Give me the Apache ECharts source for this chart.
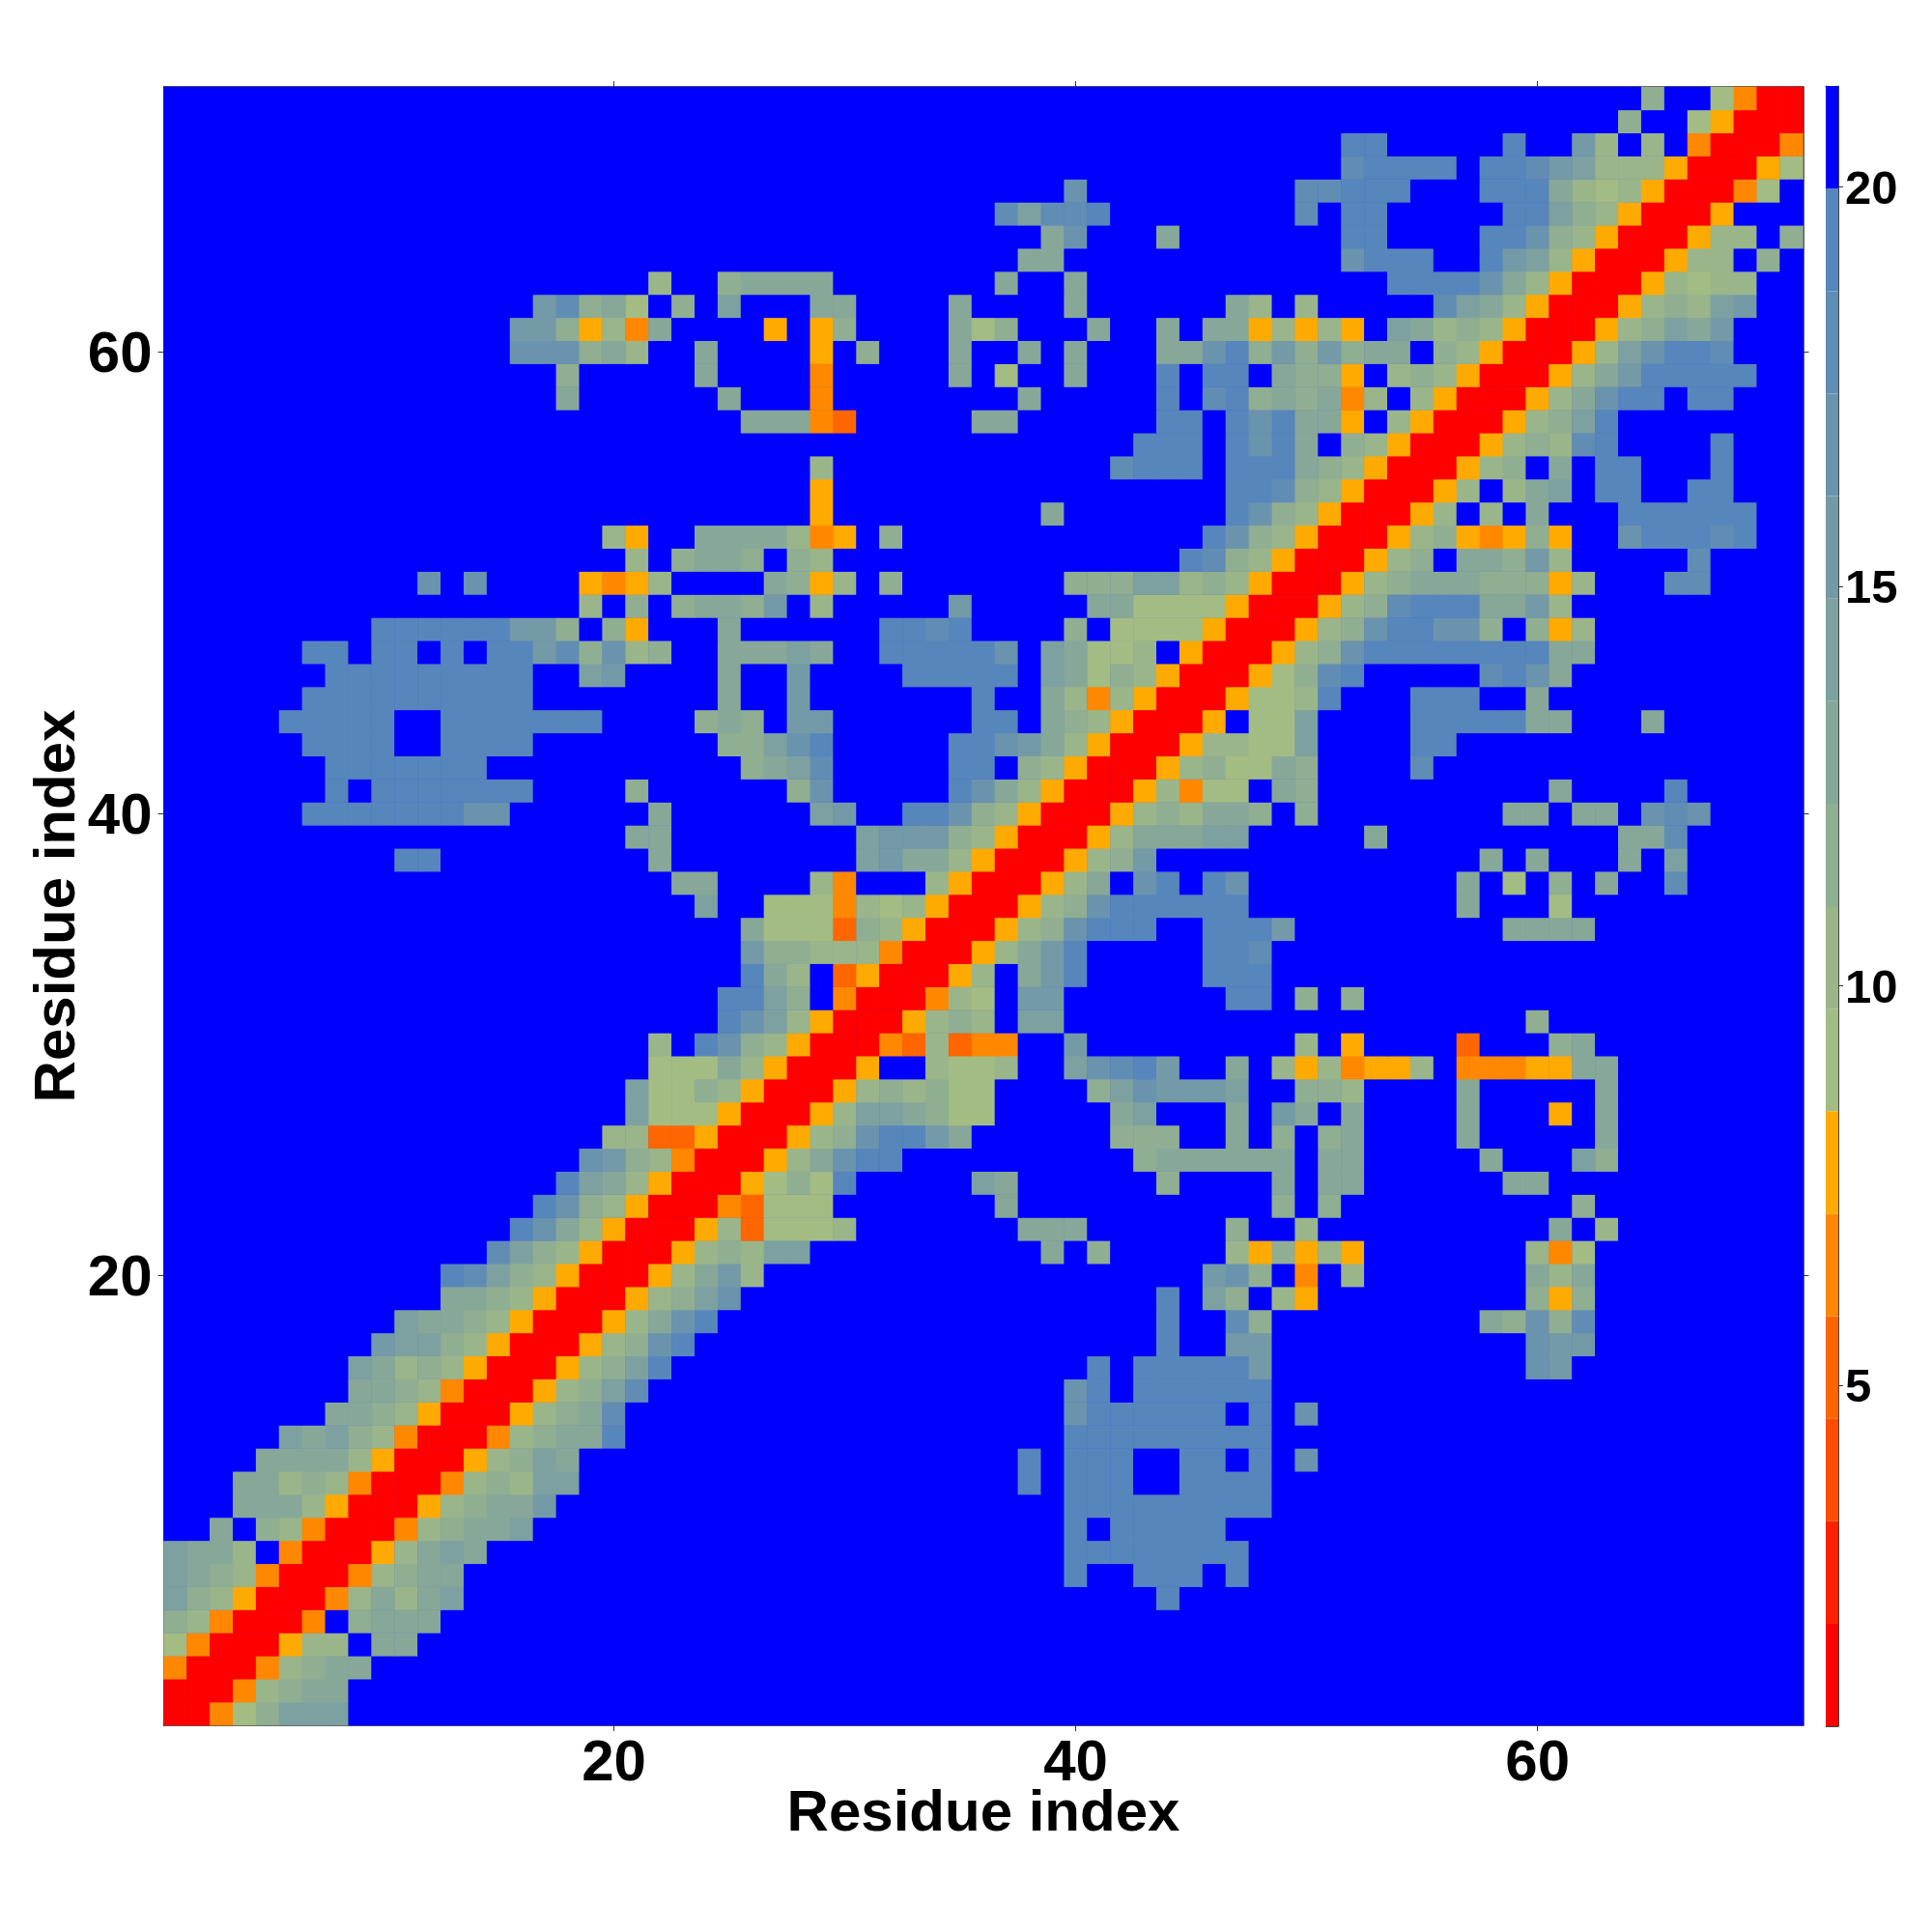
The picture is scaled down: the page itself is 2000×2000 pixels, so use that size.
<!DOCTYPE html>
<html><head><meta charset="utf-8">
<style>html,body{margin:0;padding:0;background:#fff}#c{width:2000px;height:2000px}</style>
<script src="https://cdn.jsdelivr.net/npm/echarts@6/dist/echarts.min.js"></script>
</head><body><div id="c"></div>
<script>
// Residue-residue distance map. Each row lists [first column, level codes, ...] for columns up to the diagonal;
// "." and anything unlisted is the top (blue) level; the map is symmetric.
const r01=[1,"00"];
const r02=[1,"000"];
const r03=[1,"4000"];
const r04=[1,"64000"];
const r05=[1,"874000"];
const r06=[1,"a875000"];
const r07=[1,"a9874000"];
const r08=[1,"a997.4000"];
const r09=[3,"9.874000"];
const r10=[4,"99975000"];
const r11=[4,"997874000"];
const r12=[5,"999975000"];
const r13=[6,"a9a874000"];
const r14=[8,"99875000"];
const r15=[9,"99874000"];
const r16=[9,"a97875000"];
const r17=[10,"baa875000"];
const r18=[11,"a99875000"];
const r19=[13,"99875000"];
const r20=[13,"eda875000"];
const r21=[15,"da875000"];
const r22=[16,"ec975000"];
const r23=[17,"ec875000"];
const r24=[18,"ea975000"];
const r25=[19,"cb874000"];
const r26=[20,"77335000"];
const r27=[21,"a6665000"];
const r28=[21,"a66875000"];
const r29=[22,"666975000"];
const r30=[22,"7.ec875000"];
const r31=[25,"eca75000"];
const r32=[25,"eea8.4000"];
const r33=[26,"e97.35000"];
const r34=[26,"b887774000"];
const r35=[26,"96663875000"];
const r36=[24,"a",27,"66647675000"];
const r37=[23,"99",29,"74",34,"75000"];
const r38=[11,"ee",22,"9",31,"ab9975000"];
const r39=[21,"99",31,"abbb875000"];
const r40=[7,"eeeeeeecc",22,"9",29,"ab",33,"eec875000"];
const r41=[8,"e.eeeeeee",21,"8",28,"8c",35,"ec975000"];
const r42=[8,"eeeeeee",26,"89ad",35,"ee.875000"];
const r43=[7,"eeee..eeee",25,"88ace",35,"eecb975000"];
const r44=[6,"eeeee..eeeeeee",24,"898",28,"bb",36,"ee.9875000"];
const r45=[7,"eeeeeeeeee",25,"9",28,"b",36,"e",39,"97475000"];
const r46=[8,"eeeeeeeee",19,"ab",25,"9",28,"b",33,"eeeee",39,"a96875000"];
const r47=[7,"ee.ee.e.eebd8c78",25,"999a9",32,"eeeeec",39,"a9667.5000"];
const r48=[10,"eeeeeebb8.85",25,"9",32,"eede",40,"8.66665000"];
const r49=[19,"7.8.8998b.7",35,"b",41,"9966665000"];
const r50=[12,"c.c",19,"5457",27,"9857.8",40,"888aa7875000"];
const r51=[21,"7.8998.87",45,"ed875000"];
const r52=[20,"75",24,"9999745",32,"8",46,"ec875000"];
const r53=[29,"5",39,"9",47,"ec875000"];
const r54=[29,"5",47,"eed875000"];
const r55=[29,"7",42,"deee.eee9875000"];
const r56=[43,"eee.ece9.875000"];
const r57=[26,"99943",36,"99",44,"ee.ece995.75000"];
const r58=[18,"9",25,"9",29,"4",38,"9",44,"e.de898947.75000"];
const r59=[18,"8",24,"9",29,"4",35,"9.6",40,"9",44,"e.ee.9885.7875000"];
const r60=[16,"ccc897",24,"9",29,"5.8",35,"9",38,"9.9",44,"99ce8b8b899.875000"];
const r61=[16,"bb85749",27,"5.58",35,"968",41,"9",44,"9.9957575.a97875000"];
const r62=[17,"bd896.8",25,"a",29,"99",35,"9",40,"9",47,"97.7",56,"da975000"];
const r63=[22,"7",25,"89999",37,"9",40,"9",54,"eeeec975000"];
const r64=[38,"99",52,"ceee..eba75000"];
const r65=[39,"9c",44,"9",52,"ee",58,"eec875000"];
const r66=[37,"dadde",50,"d.ee",59,"eea875000"];
const r67=[40,"c",50,"ddeee",58,"eee97675000"];
const r68=[52,"deeee.eedba7775000"];
const r69=[52,"ee",59,"e",62,"b7.7.4000"];
const r70=[64,"8",67,"65000"];
const r71=[65,"8",68,"6400"];
const rows=[r01,r02,r03,r04,r05,r06,r07,r08,r09,r10,r11,r12,r13,r14,r15,r16,r17,r18,r19,r20,r21,r22,r23,r24,r25,r26,r27,r28,r29,r30,r31,r32,r33,r34,r35,r36,r37,r38,r39,r40,r41,r42,r43,r44,r45,r46,r47,r48,r49,r50,r51,r52,r53,r54,r55,r56,r57,r58,r59,r60,r61,r62,r63,r64,r65,r66,r67,r68,r69,r70,r71];

const levelCodes="0123456789abcdef";
const levelValues=[1.37,2.65,3.94,5.22,6.50,7.79,9.07,10.35,11.64,12.92,14.20,15.48,16.77,18.05,19.33,20.62];
const levelEdges=[0.73,2.013,3.296,4.579,5.862,7.145,8.428,9.711,10.994,12.277,13.56,14.843,16.126,17.409,18.692,19.975,21.26];
const levelColors=["#ff0000","#ff2000","#ff4c00","#ff6600","#ff8800","#ffaa00","#a3bc83","#9ab58a","#90ae91","#87a898","#7da1a0","#749aa7","#6a93ae","#618db5","#5786bc","#0000ff"];
const residues=Array.from({length:71},(_,i)=>String(i+1));
const colorbarTicks=[5,10,15,20];
const axisTitle="Residue index";

const n=residues.length;
const grid=residues.map(()=>residues.map(()=>levelValues[15]));
rows.forEach((row,r)=>{
  for(let k=0;k<row.length;k+=2){
    const start=row[k]-1, codes=row[k+1];
    for(let j=0;j<codes.length;j++){
      const c=start+j;
      const v=codes[j]==="."?levelValues[15]:levelValues[levelCodes.indexOf(codes[j])];
      grid[r][c]=v; grid[c][r]=v;
    }
  }
});
const cells=[];
for(let r=0;r<n;r++)for(let c=0;c<n;c++)cells.push([c,r,grid[r][c]]);

const FONT="Liberation Sans";
const showEvery20=(i)=>(i+1)%20===0;
const frame={show:true,lineStyle:{color:"#222",width:1.5}};
const titleStyle={fontFamily:FONT,fontWeight:"bold",fontSize:60,color:"#000"};
const nudged=(size)=>({formatter:(v)=>`{v|${v}}`,rich:{v:{fontFamily:FONT,fontWeight:"bold",fontSize:size,color:"#000",padding:[8,0,0,0]}}});
const catAxis=(pos,labels,extra)=>Object.assign({
  type:"category",data:residues,position:pos,gridIndex:0,boundaryGap:true,
  axisLine:Object.assign({onZero:false},frame),
  axisTick:{show:true,alignWithLabel:true,interval:showEvery20,length:6,inside:false,lineStyle:{color:"#333",width:1}},
  axisLabel:Object.assign({show:labels,interval:showEvery20,fontFamily:FONT,fontWeight:"bold",fontSize:60,color:"#000",
    margin:pos==="left"?12:10},pos==="left"?nudged(60):{}),
  splitLine:{show:false},splitArea:{show:false}
},extra||{});

const barSeries=[{type:"bar",xAxisIndex:2,yAxisIndex:2,stack:"cb",barWidth:"100%",silent:true,data:[levelEdges[0]],itemStyle:{color:"rgba(0,0,0,0)"}}];
levelColors.forEach((col,i)=>barSeries.push({type:"bar",xAxisIndex:2,yAxisIndex:2,stack:"cb",barWidth:"100%",silent:true,
  data:[+(levelEdges[i+1]-levelEdges[i]).toFixed(3)],itemStyle:{color:col}}));

const chart=echarts.init(document.getElementById("c"),null,{renderer:"canvas"});
chart.setOption({
  animation:false,backgroundColor:"#fff",
  grid:[{left:169.5,top:90,width:1697,height:1696,show:true,backgroundColor:levelColors[15],borderWidth:0},{left:1890,top:89,width:13,height:1698}],
  xAxis:[
    catAxis("bottom",true,{name:axisTitle,nameLocation:"middle",nameGap:62,nameMoveOverlap:false,nameTextStyle:titleStyle}),
    catAxis("top",false),
    {type:"category",gridIndex:1,data:["c"],position:"bottom",axisLine:{show:true,lineStyle:{color:"#444",width:1}},axisTick:{show:false},axisLabel:{show:false}},
    {type:"category",gridIndex:1,data:["c"],position:"top",axisLine:{show:true,lineStyle:{color:"#444",width:1}},axisTick:{show:false},axisLabel:{show:false}}
  ],
  yAxis:[
    catAxis("left",true,{name:axisTitle,nameLocation:"middle",nameGap:79,nameRotate:90,nameMoveOverlap:false,nameTextStyle:titleStyle}),
    catAxis("right",false),
    {type:"value",gridIndex:1,position:"right",min:levelEdges[0],max:levelEdges[16],
      axisLine:{show:true,lineStyle:{color:"#444",width:1}},
      axisTick:{show:true,length:5,customValues:colorbarTicks,lineStyle:{color:"#333",width:1}},
      axisLabel:Object.assign({show:true,customValues:colorbarTicks,margin:7,fontFamily:FONT,fontWeight:"bold",fontSize:49,color:"#000"},nudged(49)),
      splitLine:{show:false}},
    {type:"value",gridIndex:1,position:"left",min:levelEdges[0],max:levelEdges[16],
      axisLine:{show:true,lineStyle:{color:"#444",width:1}},axisTick:{show:false},axisLabel:{show:false},splitLine:{show:false}}
  ],
  visualMap:{show:false,type:"piecewise",seriesIndex:0,
    pieces:levelColors.map((color,i)=>({min:levelEdges[i],max:levelEdges[i+1],color}))},
  series:[{type:"heatmap",xAxisIndex:0,yAxisIndex:0,data:cells,progressive:0,silent:true,itemStyle:{borderWidth:0},emphasis:{disabled:true}}].concat(barSeries)
});
</script></body></html>
